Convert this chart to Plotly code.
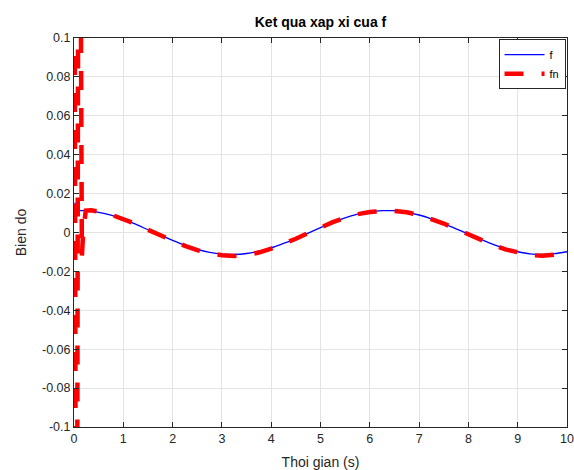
import plotly.graph_objects as go

# ---- data ----
f_t = [0.0, 0.02, 0.04, 0.06, 0.08, 0.12, 0.2, 0.35, 0.5, 0.75, 1.0, 1.25, 1.5, 1.75, 2.0,
       2.25, 2.5, 2.75, 3.0, 3.25, 3.5, 3.75, 4.0, 4.25, 4.5, 4.75, 5.0, 5.25, 5.5,
       5.75, 6.0, 6.25, 6.5, 6.75, 7.0, 7.25, 7.5, 7.75, 8.0, 8.25, 8.5, 8.75, 9.0,
       9.25, 9.5, 9.75, 10.0]
f_val = [0.0095, 0.0152, 0.0130, 0.0103, 0.0108, 0.0112, 0.0112, 0.0110, 0.0104, 0.0089, 0.0068,
         0.0043, 0.0014, -0.0014, -0.0041, -0.0066, -0.0087, -0.0102, -0.0111, -0.0113,
         -0.0108, -0.0096, -0.0079, -0.0056, -0.0031, -0.0003, 0.0025, 0.0052, 0.0075,
         0.0094, 0.0106, 0.0112, 0.0112, 0.0104, 0.0090, 0.0070, 0.0046, 0.0019, -0.0008,
         -0.0035, -0.0061, -0.0083, -0.0099, -0.0110, -0.0113, -0.0109, -0.0099]

fn_t = [0.0, 0.05, 0.1, 0.16, 0.19, 0.24, 0.35, 0.5, 0.75, 1.0, 1.25, 1.5, 1.75, 2.0,
        2.25, 2.5, 2.75, 3.0, 3.25, 3.5, 3.75, 4.0, 4.25, 4.5, 4.75, 5.0, 5.25, 5.5,
        5.75, 6.0, 6.25, 6.5, 6.75, 7.0, 7.25, 7.5, 7.75, 8.0, 8.25, 8.5, 8.75, 9.0,
        9.25, 9.5, 9.75, 9.85]
fn_val = [0.30, -0.35, 0.35, -0.012, 0.002, 0.0112, 0.0114, 0.0108, 0.0092, 0.0070, 0.0044,
          0.0014, -0.0015, -0.0043, -0.0069, -0.0091, -0.0107, -0.0117, -0.0121, -0.0116,
          -0.0103, -0.0083, -0.0059, -0.0032, -0.0003, 0.0026, 0.0053, 0.0076, 0.0094,
          0.0105, 0.0111, 0.0111, 0.0104, 0.0090, 0.0070, 0.0046, 0.0018, -0.0010, -0.0038,
          -0.0064, -0.0087, -0.0104, -0.0116, -0.0120, -0.0116, -0.0112]

x_ticks = [0, 1, 2, 3, 4, 5, 6, 7, 8, 9, 10]
y_ticks = [-0.1, -0.08, -0.06, -0.04, -0.02, 0, 0.02, 0.04, 0.06, 0.08, 0.1]
y_labels = ["-0.1", "-0.08", "-0.06", "-0.04", "-0.02", "0", "0.02", "0.04", "0.06", "0.08", "0.1"]

FONT = "Liberation Sans, Arial, sans-serif"

fig = go.Figure()
fig.add_trace(go.Scatter(x=f_t, y=f_val, mode="lines", name="f",
                         line=dict(color="#0000ff", width=1.3, shape="spline", smoothing=0.6)))
fig.add_trace(go.Scatter(x=fn_t, y=fn_val, mode="lines", name="fn",
                         line=dict(color="#ff0000", width=4.5, dash="19px,18px")))

axis_common = dict(showline=True, linecolor="#262626", linewidth=1, mirror="ticks",
                   ticks="inside", ticklen=5, tickcolor="#262626", automargin=False,
                   showgrid=True, gridcolor="#e3e3e3", gridwidth=1, zeroline=False,
                   tickfont=dict(family=FONT, size=12.5, color="#262626"))

fig.update_xaxes(range=[0, 10], tickvals=x_ticks, **axis_common,
                 title=dict(text="Thoi gian (s)", standoff=14,
                            font=dict(family=FONT, size=14, color="#262626")))
fig.update_yaxes(range=[-0.1, 0.1], tickvals=y_ticks, ticktext=y_labels, **axis_common,
                 ticklabelstandoff=0,
                 title=dict(text="Bien do", standoff=12,
                            font=dict(family=FONT, size=14, color="#262626")))

fig.update_layout(
    width=574, height=470,
    margin=dict(l=74, r=7, t=38, b=43),
    paper_bgcolor="white", plot_bgcolor="white",
    title=dict(text="<b>Ket qua xap xi cua f</b>", x=0.5, xref="paper", xanchor="center",
               y=1 - 22 / 470, yref="container", yanchor="middle",
               font=dict(family=FONT, size=14, color="black")),
    legend=dict(x=0.997, y=0.997, xanchor="right", yanchor="top",
                bgcolor="white", bordercolor="#262626", borderwidth=1,
                font=dict(family=FONT, size=11, color="black"),
                itemwidth=40, tracegroupgap=0),
    showlegend=True,
)

fig.write_html("out.html")
